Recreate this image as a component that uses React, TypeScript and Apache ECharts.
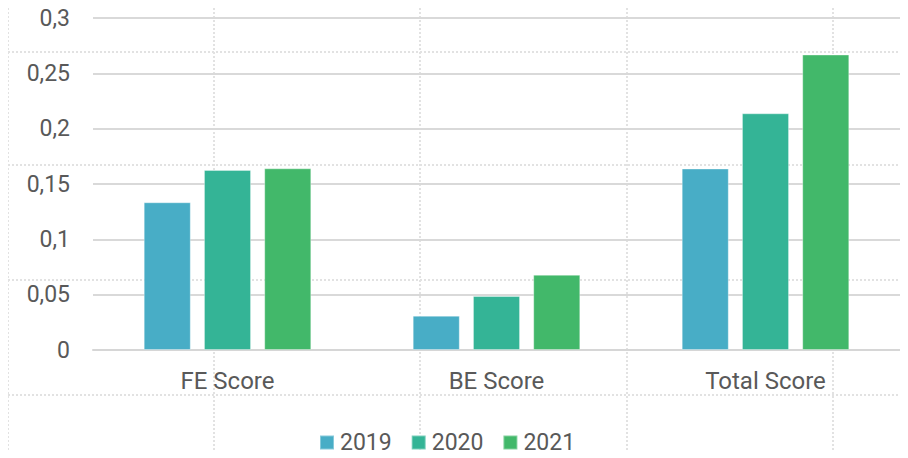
import React, { useEffect, useRef } from "react";
import * as echarts from "echarts";

const categories = ["FE Score", "BE Score", "Total Score"];
const seriesNames = ["2019", "2020", "2021"];
const values2019 = [0.1335, 0.031, 0.164];
const values2020 = [0.1627, 0.0488, 0.2139];
const values2021 = [0.1642, 0.068, 0.267];
const colors = ["#48ADC6", "#34B496", "#42B86A"];
const yTicks = { min: 0, max: 0.3, interval: 0.05 };

const bgVertical = [8, 214, 420, 627, 833];
const bgHorizontal = [52, 165, 280, 395];

export default function App() {
  const ref = useRef<HTMLDivElement>(null);
  useEffect(() => {
    if (!ref.current) return;
    const chart = echarts.init(ref.current, null, { renderer: "svg" });
    const dotted = { stroke: "#e2e2e2", lineWidth: 2, lineDash: [2, 2] };
    const graphics: any[] = [];
    bgVertical.forEach((x) =>
      graphics.push({ type: "line", z: -10, silent: true, shape: { x1: x, y1: 0, x2: x, y2: 458 }, style: dotted })
    );
    bgHorizontal.forEach((y) =>
      graphics.push({ type: "line", z: -10, silent: true, shape: { x1: 0, y1: y, x2: 908, y2: y }, style: dotted })
    );
    const data = [values2019, values2020, values2021];
    chart.setOption({
      animation: false,
      textStyle: { fontFamily: "Roboto", color: "#595959" },
      graphic: graphics,
      grid: { left: 93, right: 8, top: 18, bottom: 108, containLabel: false },
      legend: {
        bottom: -1,
        left: 314,
        itemWidth: 14,
        itemHeight: 14,
        itemGap: 19,
        icon: "rect",
        textStyle: { fontSize: 23, color: "#595959", fontFamily: "Roboto", padding: [0, 0, 0, 1] },
        data: seriesNames,
      },
      xAxis: {
        type: "category",
        data: categories,
        axisLine: { lineStyle: { color: "#d6d6d6", width: 2 } },
        axisTick: { show: false },
        axisLabel: { fontSize: 24, color: "#595959", margin: 19, fontFamily: "Roboto" },
      },
      yAxis: {
        type: "value",
        min: yTicks.min,
        max: yTicks.max,
        interval: yTicks.interval,
        axisLine: { show: false },
        axisTick: { show: false },
        splitLine: { lineStyle: { color: "#d9d9d9", width: 2 } },
        axisLabel: {
          fontSize: 23,
          color: "#595959",
          margin: 23,
          fontFamily: "Roboto",
          formatter: (v: number) => String(Math.round(v * 100) / 100).replace(".", ","),
        },
      },
      series: seriesNames.map((name, i) => ({
        name,
        type: "bar",
        data: data[i],
        barWidth: "17.5%",
        barGap: "28%",
        itemStyle: { color: colors[i], borderColor: "rgba(255,255,255,0.35)", borderWidth: 1 },
      })),
    });
    return () => chart.dispose();
  }, []);
  return <div ref={ref} style={{ width: 908, height: 458, margin: -8 }} />;
}
